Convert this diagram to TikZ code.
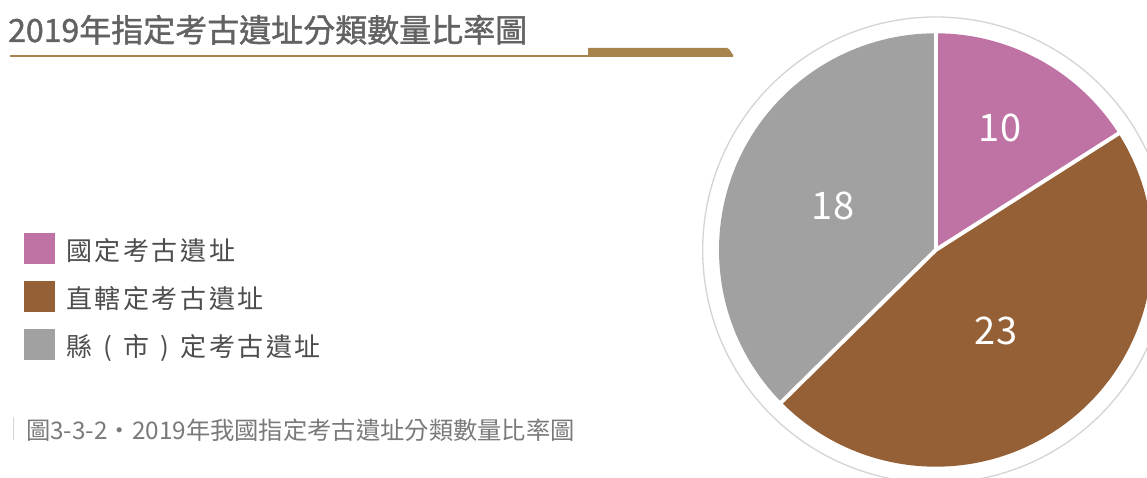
\documentclass[tikz,border=0pt]{standalone}
\usepackage{fontspec}
\newfontfamily\cjk{Noto Sans CJK TC}
\newfontfamily\cjktitle[FakeBold=1.2]{Noto Sans CJK TC}
\newfontfamily\cjkls[LetterSpace=10]{Noto Sans CJK TC}
\newcommand{\slotc}[1]{\makebox[1.2em][c]{#1}}
\definecolor{pinkc}{HTML}{BF73A5}
\definecolor{brownc}{HTML}{956035}
\definecolor{greyc}{HTML}{A0A1A0}
\definecolor{titlec}{HTML}{626262}
\definecolor{goldc}{HTML}{A8844D}
\definecolor{legtext}{HTML}{4D4D4D}
\definecolor{captc}{HTML}{7A7A7A}
\definecolor{ringc}{HTML}{D4D4D4}
\tikzset{
  legbox/.style={minimum size=31pt, inner sep=0pt, anchor=north west},
  legtxt/.style={inner sep=0pt, anchor=base west, text=legtext, font=\cjkls\fontsize{26}{26}\selectfont},
  val/.style={inner sep=0pt, text=white, font=\cjk\fontsize{38}{38}\selectfont},
  sep/.style={white, line width=4pt}
}
\begin{document}
\begin{tikzpicture}[x=1pt,y=-1pt]
\useasboundingbox (0,0) rectangle (1147,478);
\fill[white] (0,0) rectangle (1147,478);
\clip (0,0) rectangle (1147,478);
% title
\node[inner sep=0pt, anchor=base west, text=titlec, font=\cjktitle\fontsize{32}{32}\selectfont] (title) at (8,42) {2019年指定考古遺址分類數量比率圖};
\fill[goldc] (10,55) rectangle (733,57);
\fill[goldc] (588,57) -- (588,48) -- (727,48) to[out=0,in=-90] (733,54) -- (733,57) -- cycle;
% legend
\node[legbox, fill=pinkc] (lp) at (24,233) {};
\node[legbox, fill=brownc] (lb) at (24,281) {};
\node[legbox, fill=greyc] (lg) at (24,329) {};
\node[legtxt] (tp) at (66,260) {國定考古遺址};
\node[legtxt] (tb) at (66,308) {直轄定考古遺址};
\node[legtxt] (tg) at (66,356) {縣\slotc{(}市\slotc{)}定考古遺址};
% caption
\fill[ringc] (12.5,417) rectangle (14,440);
\node[inner sep=0pt, anchor=base west, text=captc, font=\cjk\fontsize{24.3}{24.3}\selectfont] (cap) at (26,439) {圖3-3-2・2019年我國指定考古遺址分類數量比率圖};
% pie
\begin{scope}[shift={(935.7,250)}, y=1pt]
\draw[ringc, line width=1.3pt] (0,0) circle (233);
\fill[pinkc] (0,0) -- (90:216.7) arc[start angle=90, end angle=32.5, radius=216.7] -- cycle;
\fill[brownc] (0,0) -- (32.5:216.7) arc[start angle=32.5, end angle=-135.4, radius=216.7] -- cycle;
\fill[greyc] (0,0) -- (-135.4:216.7) arc[start angle=-135.4, end angle=-270, radius=216.7] -- cycle;
\draw[sep] (0,0) -- (90:218);
\draw[sep] (0,0) -- (32.5:218);
\draw[sep] (0,0) -- (-135.4:218);
\end{scope}
\node[val] (v10) at (1000,128) {10};
\node[val] (v18) at (833,206) {18};
\node[val] (v23) at (996,331) {23};
\end{tikzpicture}
\end{document}
